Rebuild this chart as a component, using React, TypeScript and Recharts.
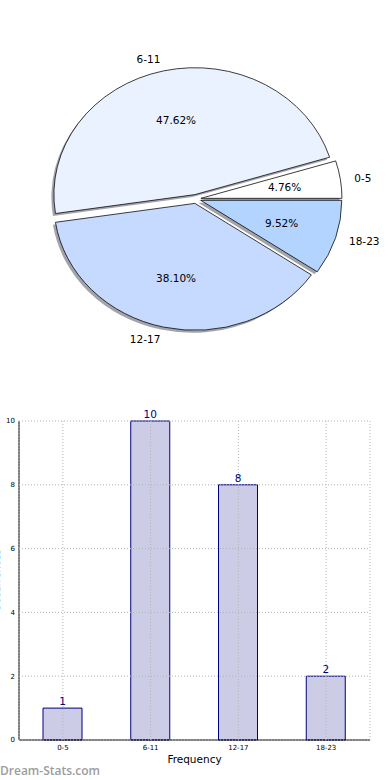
import React from "react";
import {
    PieChart,
    Pie,
    Sector,
    BarChart,
    Bar,
    XAxis,
    YAxis,
    CartesianGrid,
    LabelList
} from "recharts";

const categories = ["0-5", "6-11", "12-17", "18-23"];
const counts = [1, 10, 8, 2];
const yTicks = [0, 2, 4, 6, 8, 10];
const sliceColors = ["#ffffff", "#ebf2ff", "#c6d9ff", "#b3d4ff"];

const data = categories.map((name, i) => ({ name, value: counts[i] }));

const RAD = Math.PI / 180;
// the original pie is a bit squashed vertically
const SQUASH = 0.9;
const EXPLODE = 5;
const FONT = "DejaVu Sans, sans-serif";

// @ts-ignore
const renderSlice = (p) => {
    const { cx, cy, outerRadius: r, startAngle, endAngle, midAngle, percent, index } = p;
    const cos = Math.cos(midAngle * RAD);
    const sin = Math.sin(midAngle * RAD);
    const ex = cx + EXPLODE * cos;
    const ey = cy - EXPLODE * sin * SQUASH;
    const px = ex + 0.6 * r * cos;
    const py = ey - 0.6 * r * sin * SQUASH;
    const lx = ex + 1.1 * r * cos;
    const ly = ey - 1.1 * r * sin * SQUASH;
    return (
        <g key={`slice-${index}`}>
            <g transform={`scale(1 ${SQUASH})`}>
                <Sector
                    cx={ex - 2.5}
                    cy={(ey + 2.5) / SQUASH}
                    innerRadius={0}
                    outerRadius={r}
                    startAngle={startAngle}
                    endAngle={endAngle}
                    fill="#454a55"
                    fillOpacity={0.5}
                    stroke="none"
                />
                <Sector
                    cx={ex}
                    cy={ey / SQUASH}
                    innerRadius={0}
                    outerRadius={r}
                    startAngle={startAngle}
                    endAngle={endAngle}
                    fill={sliceColors[index]}
                    stroke="#000"
                    strokeWidth={0.8}
                />
            </g>
            <text x={px} y={py} textAnchor="middle" dominantBaseline="central" fontSize={10.5} fontFamily={FONT} fill="#000">
                {(percent * 100).toFixed(2)}%
            </text>
            <text x={lx} y={ly} textAnchor={cos >= 0 ? "start" : "end"} dominantBaseline="central" fontSize={10.5} fontFamily={FONT} fill="#000">
                {categories[index]}
            </text>
        </g>
    );
};

const App = () => {
    return (
        <div style={{ position: "relative", width: 390, height: 780, fontFamily: FONT, overflow: "hidden" }}>
            <style>{`body{margin:0}`}</style>
            <PieChart width={390} height={400} margin={{ top: 0, right: 0, bottom: 0, left: 0 }}>
                <Pie
                    data={data}
                    dataKey="value"
                    nameKey="name"
                    cx={196}
                    cy={199}
                    outerRadius={141}
                    startAngle={0}
                    endAngle={360}
                    fill="transparent"
                    stroke="none"
                    label={renderSlice}
                    labelLine={false}
                    isAnimationActive={false}
                />
            </PieChart>
            <BarChart width={390} height={380} data={data} margin={{ top: 21, right: 20, bottom: 0, left: 0 }}>
                <XAxis
                    dataKey="name"
                    height={40}
                    axisLine={{ stroke: "#000" }}
                    tickLine={false}
                    tickSize={3}
                    tickMargin={2}
                    tick={{ fontSize: 7, fill: "#000", fontFamily: FONT }}
                    label={{ value: "Frequency", position: "insideTop", offset: 16, fontSize: 10.5, fill: "#000", fontFamily: FONT }}
                />
                <XAxis xAxisId="top" dataKey="name" orientation="top" height={0} axisLine={{ stroke: "#000" }} tick={false} tickLine={false} />
                <YAxis
                    width={19}
                    domain={[0, 10]}
                    ticks={yTicks}
                    axisLine={{ stroke: "#000" }}
                    tickLine={false}
                    tickSize={3}
                    tickMargin={1}
                    tick={{ fontSize: 7, fill: "#000", fontFamily: FONT }}
                    // @ts-ignore
                    label={{
                        content: (lp: any) => {
                            const vb = lp.viewBox;
                            const y = vb.y + vb.height / 2;
                            return (
                                <text x={-4} y={y} transform={`rotate(-90 -4 ${y})`} textAnchor="middle" dominantBaseline="central" fontSize={10} fontFamily={FONT} fill="#000">
                                    Occurrences
                                </text>
                            );
                        }
                    }}
                />
                <YAxis yAxisId="right" orientation="right" width={0} domain={[0, 10]} tick={false} tickLine={false} axisLine={{ stroke: "#000" }} />
                <Bar dataKey="value" barSize={39} fill="#ccccE6" stroke="#000080" strokeWidth={1} isAnimationActive={false}>
                    <LabelList dataKey="value" position="top" offset={3} fill="#000080" fontSize={10.5} fontFamily={FONT} />
                </Bar>
                {/* @ts-ignore */}
                <CartesianGrid stroke="#b4b4b4" strokeDasharray="1 2" zIndex={600} />
            </BarChart>
            <div style={{ position: "absolute", left: 0, top: 763, fontSize: 12, fontWeight: 600, color: "#9c9c9c", fontFamily: "Open Sans, sans-serif", lineHeight: "15px" }}>
                Dream-Stats.com
            </div>
        </div>
    );
};

export default App;
